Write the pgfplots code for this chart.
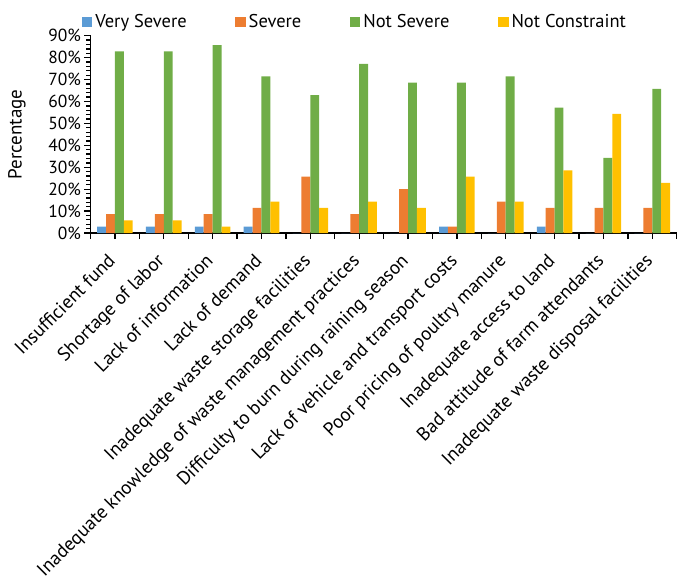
\documentclass[border=0pt]{standalone}
\usepackage{fontspec}
\setmainfont{PT Sans}
\usepackage{pgfplots}
\pgfplotsset{compat=1.18}
\definecolor{cVS}{HTML}{5B9BD5}
\definecolor{cS}{HTML}{ED7D31}
\definecolor{cNS}{HTML}{70AD47}
\definecolor{cNC}{HTML}{FFC000}
\begin{document}
\begin{tikzpicture}
\path[use as bounding box] (0,0) rectangle (678bp,584bp);
\begin{axis}[
  at={(90.5bp,351bp)}, anchor=south west,
  scale only axis, width=586.2bp, height=197.3bp,
  xmin=-0.5, xmax=11.5, ymin=0, ymax=90,
  axis x line*=bottom, axis y line*=left,
  axis line style={line width=1.4bp, -},
  ybar=0pt, bar width=8.9bp,
  xtick={0,...,11},
  extra x ticks={-0.5,0.5,...,11.5},
  extra x tick labels={},
  xticklabels={Insufficient fund,Shortage of labor,Lack of information,Lack of demand,Inadequate waste storage facilities,Inadequate knowledge of waste management practices,Difficulty to burn during raining season,Lack of vehicle and transport costs,Poor pricing of poultry manure,Inadequate access to land,Bad attitude of farm attendants,Inadequate waste disposal facilities},
  xticklabel style={rotate=45, anchor=north east, inner sep=0pt, xshift=-15.2bp, yshift=-3.6bp, font=\fontsize{19bp}{22bp}\selectfont},
  ytick={0,10,...,90},
  minor y tick num=4,
  yticklabel={\pgfmathprintnumber{\tick}\%},
  yticklabel style={font=\fontsize{17.5bp}{20bp}\selectfont},
  /pgf/number format/assume math mode=true,
  major tick length=6bp, minor tick length=4bp,
  tick style={black, line width=1.3bp},
  ylabel={Percentage},
  ylabel style={at={(axis description cs:-0.1254,0.5)}, anchor=center, font=\fontsize{19bp}{22bp}\selectfont},
  legend columns=4,
  legend style={draw=none, fill=none, inner sep=0pt, at={(axis description cs:-0.015,1.069)}, anchor=west,
    font=\fontsize{18.5bp}{22bp}\selectfont,
    /tikz/every even column/.append style={column sep=45.5bp},
    nodes={inner xsep=3bp}},
  legend image code/.code={\fill[#1] (0bp,-5bp) rectangle (10.5bp,5.5bp);},
  clip=false,
  tick align=outside,
]
\addplot[fill=cVS, draw=none] coordinates {(0,2.86) (1,2.86) (2,2.86) (3,2.86) (4,0) (5,0) (6,0) (7,2.86) (8,0) (9,2.86) (10,0) (11,0)};
\addplot[fill=cS, draw=none] coordinates {(0,8.57) (1,8.57) (2,8.57) (3,11.43) (4,25.71) (5,8.57) (6,20.00) (7,2.86) (8,14.29) (9,11.43) (10,11.43) (11,11.43)};
\addplot[fill=cNS, draw=none] coordinates {(0,82.86) (1,82.86) (2,85.71) (3,71.43) (4,62.86) (5,77.14) (6,68.57) (7,68.57) (8,71.43) (9,57.14) (10,34.29) (11,65.71)};
\addplot[fill=cNC, draw=none] coordinates {(0,5.71) (1,5.71) (2,2.86) (3,14.29) (4,11.43) (5,14.29) (6,11.43) (7,25.71) (8,14.29) (9,28.57) (10,54.29) (11,22.86)};
\legend{Very Severe,Severe,Not Severe,Not Constraint}
\end{axis}
\end{tikzpicture}
\end{document}
